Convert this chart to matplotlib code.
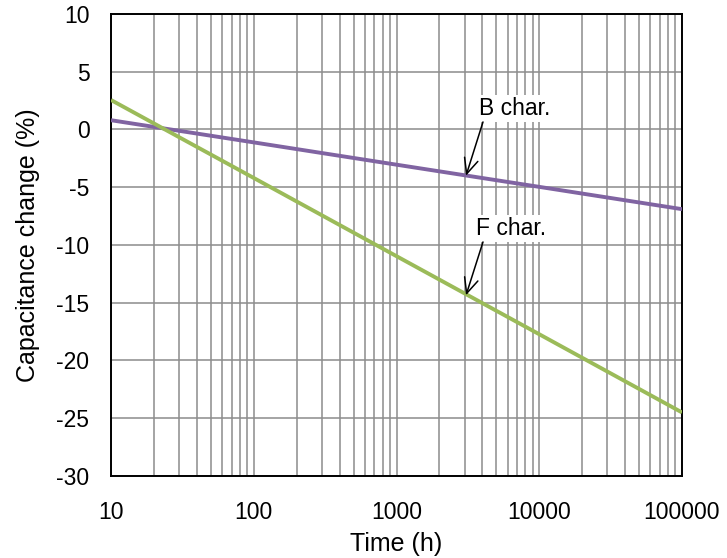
import matplotlib
matplotlib.use("Agg")
import matplotlib.pyplot as plt
import numpy as np

time_h = [10, 100, 1000, 10000, 100000]
b_char = [0.8, -1.12, -3.05, -4.97, -6.9]
f_char = [2.55, -4.2, -10.97, -17.73, -24.5]
x_ticks = [10, 100, 1000, 10000, 100000]
x_ticklabels = ["10", "100", "1000", "10000", "100000"]
y_ticks = [-30, -25, -20, -15, -10, -5, 0, 5, 10]

plt.rcParams['font.family'] = ['Liberation Sans', 'DejaVu Sans']
plt.rcParams['axes.unicode_minus'] = False

fig = plt.figure(figsize=(7.27, 5.58), dpi=100)
ax = fig.add_axes([0.1527, 0.147, 0.7854, 0.828])

ax.set_xscale('log')
ax.set_xlim(10, 100000)
ax.set_ylim(-30, 10)

ax.set_xticks(x_ticks)
ax.set_xticklabels(x_ticklabels)
ax.set_yticks(y_ticks)
ax.xaxis.set_minor_locator(matplotlib.ticker.LogLocator(base=10, subs=np.arange(2, 10)))
ax.xaxis.set_minor_formatter(matplotlib.ticker.NullFormatter())
ax.tick_params(axis='both', which='both', length=0, labelsize=16.5)
ax.tick_params(axis='x', pad=18)
ax.tick_params(axis='y', pad=15.5)

ax.grid(True, which='major', axis='both', color='#8c8c8c', linewidth=1.1)
ax.grid(True, which='minor', axis='x', color='#8c8c8c', linewidth=1.1)
ax.set_axisbelow(True)
for s in ax.spines.values():
    s.set_color('black')
    s.set_linewidth(1.4)

ax.plot(time_h, b_char, color='#8064A2', linewidth=2.8, solid_capstyle='butt', zorder=3)
ax.plot(time_h, f_char, color='#9BBB59', linewidth=2.8, solid_capstyle='butt', zorder=3)

bbox = dict(boxstyle='square,pad=0.1', fc='white', ec='none')
ax.text(6760, 1.255, 'B char.', fontsize=16.5, ha='center', va='baseline', bbox=bbox, zorder=4)
ax.text(6340, -9.13, 'F char.', fontsize=16.5, ha='center', va='baseline', bbox=bbox, zorder=4)

arrow = dict(arrowstyle='->,head_length=0.55,head_width=0.25', color='black', lw=1.1,
             shrinkA=0, shrinkB=0, mutation_scale=20)
ax.annotate('', xy=(3070, -4.0), xytext=(4036, 0.65), arrowprops=arrow, zorder=5)
ax.annotate('', xy=(3070, -14.35), xytext=(4036, -9.74), arrowprops=arrow, zorder=5)

ax.set_xlabel('Time (h)', fontsize=18, labelpad=6)
ax.set_ylabel('Capacitance change (%)', fontsize=18, labelpad=12)

fig.savefig('out.png', dpi=100)
